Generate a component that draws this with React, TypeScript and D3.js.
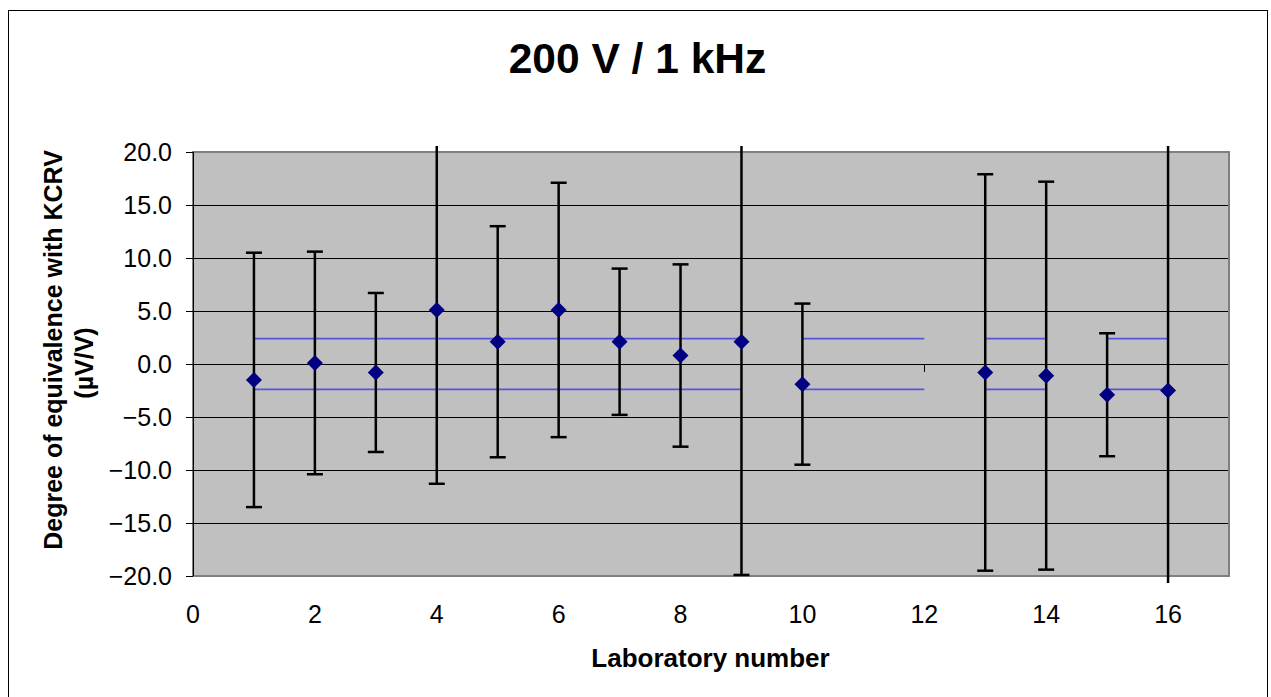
import React from "react";
import * as d3 from "d3";

// lab results, degree of equivalence (µV/V) with expanded uncertainty ends
const labs = [1, 2, 3, 4, 5, 6, 7, 8, 9, 10, 13, 14, 15, 16];
const values = [-1.5, 0.1, -0.8, 5.1, 2.1, 5.1, 2.1, 0.8, 2.1, -1.9, -0.8, -1.1, -2.9, -2.5];
const upper = [10.5, 10.6, 6.7, 21.5, 13.0, 17.1, 9.0, 9.4, 24.1, 5.7, 17.9, 17.2, 2.9, 22.5];
const lower = [-13.5, -10.4, -8.3, -11.3, -8.8, -6.9, -4.8, -7.8, -19.9, -9.5, -19.5, -19.4, -8.7, -27.5];

// lab 12 has no result, only a stray bar stub
const stubLab = 12;
const stubFrom = 0;
const stubTo = -0.75;

// KCRV uncertainty band, drawn in pieces
const kcrvU = 2.4;
const bandStart = [1, 10, 13, 15];
const bandEnd = [9, 12, 14, 16];

const xTicks = [0, 2, 4, 6, 8, 10, 12, 14, 16];
const yTicks = [-20, -15, -10, -5, 0, 5, 10, 15, 20];

const font = "'Liberation Sans', Arial, sans-serif";

export default function App() {
  const left = 193, right = 1229, top = 152, bottom = 576;
  const x = d3.scaleLinear().domain([0, 17]).range([left, right]);
  const y = d3.scaleLinear().domain([-20, 20]).range([bottom, top]);
  const fmt = d3.format(".1f");
  const diamond = "M0,-8L8,0L0,8L-8,0Z";

  return (
    <svg width={1271} height={697} style={{ position: "absolute", left: 0, top: 0 }}>
      <rect x={0} y={0} width={1271} height={697} fill="white" />
      <rect x={8.5} y={10.5} width={1259} height={700} fill="none" stroke="black" strokeWidth={1} />
      <defs>
        <clipPath id="clip">
          <rect x={left} y={top - 6} width={right - left} height={bottom - top + 13} />
        </clipPath>
      </defs>

      <text x={637.5} y={73} textAnchor="middle" fontFamily={font} fontWeight="bold" fontSize={42.5}>
        200 V / 1 kHz
      </text>

      {/* plot area */}
      <rect x={left} y={top} width={right - left} height={bottom - top} fill="#c0c0c0" stroke="#808080" strokeWidth={2} />
      {yTicks.filter(t => t > -20 && t < 20).map(t => (
        <line key={t} x1={left} x2={right - 1} y1={Math.round(y(t)) + 0.5} y2={Math.round(y(t)) + 0.5} stroke="black" strokeWidth={1} />
      ))}

      {/* y axis */}
      <line x1={left + 0.5} x2={left + 0.5} y1={top} y2={bottom} stroke="black" strokeWidth={1} />
      {yTicks.map(t => (
        <g key={t}>
          <line x1={left - 7} x2={left} y1={Math.round(y(t)) + 0.5} y2={Math.round(y(t)) + 0.5} stroke="black" strokeWidth={1} />
          <text x={172} y={y(t)} dy="0.35em" textAnchor="end" fontFamily={font} fontSize={25}>
            {fmt(t)}
          </text>
        </g>
      ))}
      {xTicks.map(t => (
        <text key={t} x={x(t)} y={623} textAnchor="middle" fontFamily={font} fontSize={25}>
          {t}
        </text>
      ))}

      <text x={710.5} y={667} textAnchor="middle" fontFamily={font} fontWeight="bold" fontSize={26}>
        Laboratory number
      </text>
      <text transform="translate(62,350) rotate(-90)" textAnchor="middle" fontFamily={font} fontWeight="bold" fontSize={25}>
        Degree of equivalence with KCRV
      </text>
      <text transform="translate(93,363) rotate(-90)" textAnchor="middle" fontFamily={font} fontWeight="bold" fontSize={25}>
        (µV/V)
      </text>

      {/* KCRV band */}
      {bandStart.map((s, i) => (
        <g key={s}>
          <line x1={x(s)} x2={x(bandEnd[i])} y1={y(kcrvU)} y2={y(kcrvU)} stroke="#5555dd" strokeWidth={1.7} />
          <line x1={x(s)} x2={x(bandEnd[i])} y1={y(-kcrvU)} y2={y(-kcrvU)} stroke="#5555dd" strokeWidth={1.7} />
        </g>
      ))}

      <line x1={Math.round(x(stubLab)) + 0.5} x2={Math.round(x(stubLab)) + 0.5} y1={y(stubFrom)} y2={y(stubTo)} stroke="black" strokeWidth={1} />

      {/* error bars */}
      <g clipPath="url(#clip)">
        {labs.map((lab, i) => (
          <g key={lab} stroke="black" strokeWidth={2.5}>
            <line x1={x(lab)} x2={x(lab)} y1={y(upper[i])} y2={y(lower[i])} />
            <line x1={x(lab) - 8} x2={x(lab) + 8} y1={y(upper[i])} y2={y(upper[i])} />
            <line x1={x(lab) - 8} x2={x(lab) + 8} y1={y(lower[i])} y2={y(lower[i])} />
          </g>
        ))}
      </g>

      {/* markers */}
      {labs.map((lab, i) => (
        <path key={lab} d={diamond} transform={`translate(${x(lab)},${y(values[i])})`} fill="#000080" />
      ))}
    </svg>
  );
}
